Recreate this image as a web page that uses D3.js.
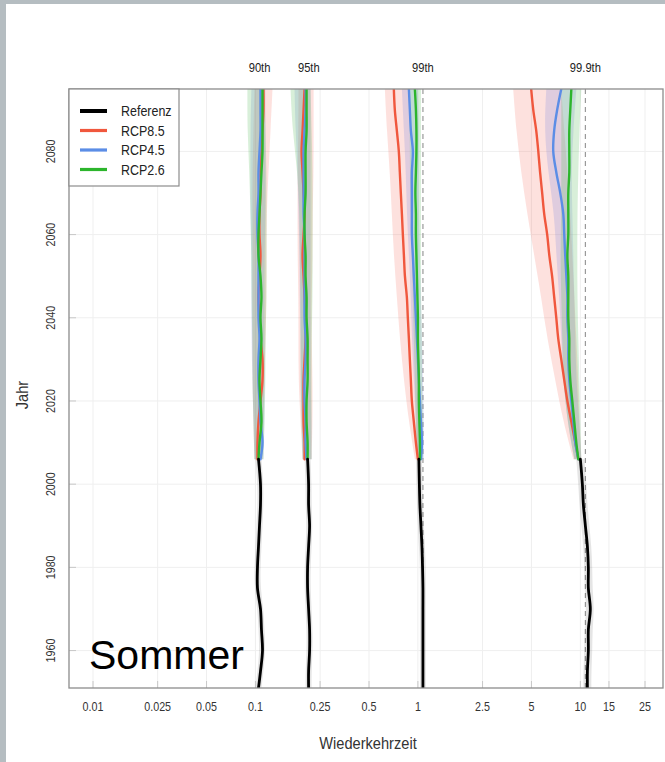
<!DOCTYPE html>
<html>
<head>
<meta charset="utf-8">
<script src="https://cdn.jsdelivr.net/npm/d3@7"></script>
<style>
  html, body { margin: 0; padding: 0; background: #ffffff; }
  svg { display: block; }
  .cond { font-family: "Liberation Sans", Arial, sans-serif; }
</style>
</head>
<body>
<svg id="chart" width="665" height="762"></svg>
<script>
// ---------- DATA ----------
const xTickValues = [0.01, 0.025, 0.05, 0.1, 0.25, 0.5, 1, 2.5, 5, 10, 15, 25];
const xTickLabels = ["0.01", "0.025", "0.05", "0.1", "0.25", "0.5", "1", "2.5", "5", "10", "15", "25"];
const yTickValues = [1960, 1980, 2000, 2020, 2040, 2060, 2080];
const percentileLabels = ["90th", "95th", "99th", "99.9th"];
const percentileRef = [0.106, 0.213, 1.074, 10.74];
const dashedRef = [1.074, 10.74];
const seriesNames = ["Referenz", "RCP8.5", "RCP4.5", "RCP2.6"];

// Reference period (black)
const refYears = [1951, 1955, 1960, 1965, 1970, 1975, 1980, 1985, 1990, 1995, 2000, 2006];
const ref90  = [0.1044, 0.1074, 0.1105, 0.1089, 0.1074, 0.1029, 0.1029, 0.1044, 0.1059, 0.1074, 0.1074, 0.1044];
const ref95  = [0.2124, 0.2124, 0.2154, 0.2154, 0.2124, 0.2094, 0.2094, 0.2124, 0.2154, 0.2124, 0.2124, 0.2094];
const ref99  = [1.074, 1.074, 1.074, 1.074, 1.074, 1.074, 1.068, 1.059, 1.044, 1.029, 1.021, 1.014];
const ref999 = [11.05, 11.05, 11.2, 11.2, 11.52, 11.2, 11.2, 11.05, 10.74, 10.44, 10.29, 10.0];
const refLo90  = [0.1, 0.1029, 0.1059, 0.1044, 0.1029, 0.0986, 0.0986, 0.1, 0.1014, 0.1029, 0.1029, 0.1];
const refHi90  = [0.1089, 0.112, 0.1153, 0.1137, 0.112, 0.1074, 0.1074, 0.1089, 0.1105, 0.112, 0.112, 0.1089];
const refLo95  = [0.2035, 0.2035, 0.2064, 0.2064, 0.2035, 0.2006, 0.2006, 0.2035, 0.2064, 0.2035, 0.2035, 0.2006];
const refHi95  = [0.2216, 0.2216, 0.2248, 0.2248, 0.2216, 0.2185, 0.2185, 0.2216, 0.2248, 0.2216, 0.2216, 0.2185];
const refLo99  = [1.029, 1.029, 1.029, 1.029, 1.029, 1.029, 1.029, 1.014, 1.0, 0.986, 0.979, 0.972];
const refHi99  = [1.12, 1.12, 1.12, 1.12, 1.12, 1.12, 1.12, 1.105, 1.089, 1.074, 1.067, 1.059];
const refLo999 = [10.44, 10.44, 10.59, 10.59, 10.9, 10.59, 10.59, 10.44, 10.14, 9.86, 9.72, 9.44];
const refHi999 = [11.69, 11.69, 11.86, 11.86, 12.19, 11.86, 11.86, 11.69, 11.37, 11.05, 10.89, 10.59];

// Scenario period (lines)
const rcpYears = [2006, 2010, 2015, 2020, 2025, 2030, 2035, 2040, 2045, 2050, 2055, 2060, 2065, 2070, 2075, 2080, 2085, 2090, 2095];
const rcp85_90 = [0.1029, 0.1029, 0.1044, 0.1074, 0.1105, 0.1105, 0.1074, 0.1059, 0.1044, 0.1059, 0.1074, 0.1059, 0.1059, 0.1074, 0.1074, 0.1089, 0.1105, 0.112, 0.112];
const rcp45_90 = [0.1074, 0.1105, 0.1074, 0.1059, 0.1044, 0.1044, 0.1059, 0.1044, 0.1044, 0.1044, 0.1044, 0.1029, 0.1029, 0.1044, 0.1044, 0.1059, 0.1074, 0.1074, 0.1074];
const rcp26_90 = [0.1044, 0.1059, 0.1089, 0.1074, 0.1059, 0.1074, 0.1089, 0.1074, 0.1089, 0.1074, 0.1044, 0.1044, 0.1059, 0.1074, 0.1089, 0.1105, 0.1105, 0.1105, 0.1105];
const rcp85_95 = [0.2006, 0.2006, 0.1978, 0.1978, 0.1978, 0.2006, 0.2035, 0.2035, 0.2006, 0.1978, 0.195, 0.1978, 0.2006, 0.1978, 0.195, 0.1923, 0.195, 0.1978, 0.2006];
const rcp45_95 = [0.2064, 0.2035, 0.2035, 0.2006, 0.2006, 0.2035, 0.2035, 0.2006, 0.2006, 0.2006, 0.2006, 0.2006, 0.1978, 0.1978, 0.1978, 0.1978, 0.2006, 0.2035, 0.2035];
const rcp26_95 = [0.2094, 0.2094, 0.2064, 0.2064, 0.2094, 0.2094, 0.2094, 0.2064, 0.2064, 0.2035, 0.2035, 0.2006, 0.2006, 0.2035, 0.2035, 0.2035, 0.2064, 0.2064, 0.2064];
const rcp85_99 = [1.0, 0.972, 0.944, 0.918, 0.905, 0.892, 0.880, 0.867, 0.855, 0.832, 0.820, 0.808, 0.797, 0.785, 0.774, 0.763, 0.742, 0.721, 0.711];
const rcp45_99 = [1.044, 1.059, 1.044, 1.029, 1.014, 1.0, 0.986, 0.972, 0.958, 0.944, 0.931, 0.918, 0.918, 0.918, 0.918, 0.931, 0.905, 0.892, 0.880];
const rcp26_99 = [1.029, 1.029, 1.021, 1.014, 1.014, 1.007, 1.0, 1.0, 0.993, 0.986, 0.979, 0.972, 0.972, 0.965, 0.972, 0.979, 0.979, 0.972, 0.958];
const rcp85_999 = [9.72, 9.31, 8.80, 8.32, 7.96, 7.63, 7.31, 7.11, 6.9, 6.7, 6.44, 6.25, 5.99, 5.82, 5.65, 5.51, 5.35, 5.13, 4.98];
const rcp45_999 = [9.72, 9.31, 9.05, 8.80, 8.55, 8.43, 8.43, 8.32, 8.32, 8.20, 8.07, 7.96, 7.85, 7.52, 7.11, 6.81, 6.9, 7.2, 7.63];
const rcp26_999 = [9.72, 9.44, 9.18, 8.92, 8.67, 8.55, 8.55, 8.43, 8.43, 8.43, 8.32, 8.43, 8.43, 8.43, 8.55, 8.55, 8.55, 8.67, 8.80];

// Scenario period (uncertainty bands)
const bandYears = [2006, 2015, 2025, 2035, 2045, 2055, 2065, 2075, 2085, 2095];
const rcp85_90_lo = [0.0986, 0.0972, 0.0958, 0.0958, 0.0958, 0.0958, 0.0958, 0.0958, 0.0972, 0.0986];
const rcp85_90_hi = [0.1105, 0.112, 0.1137, 0.1153, 0.117, 0.117, 0.117, 0.1203, 0.1238, 0.1273];
const rcp45_90_lo = [0.0986, 0.0972, 0.0958, 0.0944, 0.0944, 0.0944, 0.0931, 0.0931, 0.0931, 0.0944];
const rcp45_90_hi = [0.112, 0.1137, 0.1137, 0.1137, 0.1137, 0.1137, 0.1153, 0.1153, 0.1153, 0.1153];
const rcp26_90_lo = [0.0986, 0.0972, 0.0958, 0.0958, 0.0944, 0.0944, 0.0931, 0.0918, 0.0892, 0.0892];
const rcp26_90_hi = [0.112, 0.1137, 0.1153, 0.1153, 0.117, 0.117, 0.117, 0.117, 0.1153, 0.1137];
const rcp85_95_lo = [0.195, 0.1896, 0.184, 0.184, 0.184, 0.1816, 0.1816, 0.1816, 0.184, 0.184];
const rcp85_95_hi = [0.2216, 0.2248, 0.2248, 0.2216, 0.2216, 0.2248, 0.2248, 0.228, 0.228, 0.228];
const rcp45_95_lo = [0.195, 0.1923, 0.1896, 0.1896, 0.187, 0.187, 0.184, 0.1816, 0.1766, 0.174];
const rcp45_95_hi = [0.2216, 0.2216, 0.2185, 0.2185, 0.2185, 0.2185, 0.2185, 0.2185, 0.2185, 0.2185];
const rcp26_95_lo = [0.195, 0.1923, 0.1896, 0.1896, 0.1896, 0.187, 0.187, 0.1816, 0.169, 0.1644];
const rcp26_95_hi = [0.2216, 0.2216, 0.2216, 0.2216, 0.2248, 0.2248, 0.2248, 0.2248, 0.2216, 0.2185];
const rcp85_99_lo = [0.958, 0.880, 0.820, 0.774, 0.742, 0.711, 0.691, 0.672, 0.644, 0.626];
const rcp85_99_hi = [1.059, 1.029, 1.0, 0.972, 0.958, 0.931, 0.918, 0.905, 0.892, 0.880];
const rcp45_99_lo = [0.986, 0.972, 0.944, 0.918, 0.905, 0.880, 0.855, 0.843, 0.820, 0.797];
const rcp45_99_hi = [1.089, 1.089, 1.074, 1.059, 1.044, 1.029, 1.014, 1.014, 1.014, 1.0];
const rcp26_99_lo = [0.986, 0.972, 0.958, 0.944, 0.931, 0.918, 0.905, 0.892, 0.892, 0.880];
const rcp26_99_hi = [1.074, 1.074, 1.059, 1.059, 1.044, 1.044, 1.044, 1.044, 1.044, 1.044];
const rcp85_999_lo = [9.05, 7.85, 7.01, 6.25, 5.74, 5.20, 4.71, 4.32, 4.03, 3.86];
const rcp85_999_hi = [10.14, 9.86, 9.72, 9.44, 9.18, 8.93, 8.67, 8.32, 7.96, 7.63];
const rcp45_999_lo = [9.18, 8.32, 7.85, 7.63, 7.42, 7.11, 6.91, 6.34, 5.99, 6.17];
const rcp45_999_hi = [10.14, 9.86, 9.44, 9.31, 9.18, 9.05, 8.93, 8.80, 9.05, 9.44];
const rcp26_999_lo = [9.18, 8.32, 7.85, 7.74, 7.63, 7.53, 7.63, 7.63, 7.63, 7.63];
const rcp26_999_hi = [10.14, 10.0, 9.86, 9.72, 9.58, 9.58, 9.58, 9.72, 9.86, 10.14];

// ---------- STYLE ----------
const colors = { ref: "#000000", rcp85: "#f0573d", rcp45: "#5b8de6", rcp26: "#2cb52c" };
const bandFill = { ref: "rgba(0,0,0,0.10)", rcp85: "rgba(248,120,105,0.22)", rcp45: "rgba(120,130,225,0.22)", rcp26: "rgba(90,190,95,0.24)" };
const NARROW = 0.86; // horizontal condensation of the label font

// ---------- LAYOUT ----------
const svg = d3.select("#chart");
const W = 665, H = 762;
const plot = { left: 69, right: 663, top: 89, bottom: 688 };

// slide background frame
svg.append("rect").attr("x", 0).attr("y", 0).attr("width", W).attr("height", H).attr("fill", "#b5bdc1");
svg.append("rect").attr("x", 6).attr("y", 4).attr("width", W - 6).attr("height", H - 4).attr("fill", "#ffffff");

const x = d3.scaleLog().domain([0.01, 25]).range([93, 645]);
const y = d3.scaleLinear().domain([1951, 2095]).range([plot.bottom, plot.top]);

svg.append("defs").append("clipPath").attr("id", "clip")
  .append("rect").attr("x", plot.left).attr("y", plot.top)
  .attr("width", plot.right - plot.left).attr("height", plot.bottom - plot.top);

// grid
const grid = svg.append("g");
grid.selectAll("line.vx").data(xTickValues).join("line")
  .attr("x1", d => x(d)).attr("x2", d => x(d))
  .attr("y1", plot.top).attr("y2", plot.bottom)
  .attr("stroke", "#efefef").attr("stroke-width", 1);
grid.selectAll("line.hy").data(yTickValues).join("line")
  .attr("y1", d => y(d)).attr("y2", d => y(d))
  .attr("x1", plot.left).attr("x2", plot.right)
  .attr("stroke", "#efefef").attr("stroke-width", 1);
grid.selectAll("line.tx").data(xTickValues).join("line")
  .attr("x1", d => x(d)).attr("x2", d => x(d))
  .attr("y1", plot.bottom - 7).attr("y2", plot.bottom)
  .attr("stroke", "#c8c8c8").attr("stroke-width", 1);
grid.selectAll("line.ty").data(yTickValues).join("line")
  .attr("y1", d => y(d)).attr("y2", d => y(d))
  .attr("x1", plot.left).attr("x2", plot.left + 7)
  .attr("stroke", "#c8c8c8").attr("stroke-width", 1);

const g = svg.append("g").attr("clip-path", "url(#clip)");

// dashed reference verticals
g.selectAll("line.dash").data(dashedRef).join("line")
  .attr("x1", d => x(d)).attr("x2", d => x(d))
  .attr("y1", plot.top).attr("y2", plot.bottom)
  .attr("stroke", "#9a9a9a").attr("stroke-width", 1.2).attr("stroke-dasharray", "5,4");

function zipBand(years, lo, hi) { return years.map((yr, i) => ({ yr, lo: lo[i], hi: hi[i] })); }
function zipLine(years, v) { return years.map((yr, i) => ({ yr, v: v[i] })); }

const bands = [
  { key: "ref", d: zipBand(refYears, refLo90, refHi90) },
  { key: "ref", d: zipBand(refYears, refLo95, refHi95) },
  { key: "ref", d: zipBand(refYears, refLo99, refHi99) },
  { key: "ref", d: zipBand(refYears, refLo999, refHi999) },
  { key: "rcp85", d: zipBand(bandYears, rcp85_90_lo, rcp85_90_hi) },
  { key: "rcp85", d: zipBand(bandYears, rcp85_95_lo, rcp85_95_hi) },
  { key: "rcp85", d: zipBand(bandYears, rcp85_99_lo, rcp85_99_hi) },
  { key: "rcp85", d: zipBand(bandYears, rcp85_999_lo, rcp85_999_hi) },
  { key: "rcp45", d: zipBand(bandYears, rcp45_90_lo, rcp45_90_hi) },
  { key: "rcp45", d: zipBand(bandYears, rcp45_95_lo, rcp45_95_hi) },
  { key: "rcp45", d: zipBand(bandYears, rcp45_99_lo, rcp45_99_hi) },
  { key: "rcp45", d: zipBand(bandYears, rcp45_999_lo, rcp45_999_hi) },
  { key: "rcp26", d: zipBand(bandYears, rcp26_90_lo, rcp26_90_hi) },
  { key: "rcp26", d: zipBand(bandYears, rcp26_95_lo, rcp26_95_hi) },
  { key: "rcp26", d: zipBand(bandYears, rcp26_99_lo, rcp26_99_hi) },
  { key: "rcp26", d: zipBand(bandYears, rcp26_999_lo, rcp26_999_hi) }
];

const lines = [
  { key: "rcp85", d: zipLine(rcpYears, rcp85_90) },
  { key: "rcp85", d: zipLine(rcpYears, rcp85_95) },
  { key: "rcp85", d: zipLine(rcpYears, rcp85_99) },
  { key: "rcp85", d: zipLine(rcpYears, rcp85_999) },
  { key: "rcp45", d: zipLine(rcpYears, rcp45_90) },
  { key: "rcp45", d: zipLine(rcpYears, rcp45_95) },
  { key: "rcp45", d: zipLine(rcpYears, rcp45_99) },
  { key: "rcp45", d: zipLine(rcpYears, rcp45_999) },
  { key: "rcp26", d: zipLine(rcpYears, rcp26_90) },
  { key: "rcp26", d: zipLine(rcpYears, rcp26_95) },
  { key: "rcp26", d: zipLine(rcpYears, rcp26_99) },
  { key: "rcp26", d: zipLine(rcpYears, rcp26_999) },
  { key: "ref", d: zipLine(refYears, ref90) },
  { key: "ref", d: zipLine(refYears, ref95) },
  { key: "ref", d: zipLine(refYears, ref99) },
  { key: "ref", d: zipLine(refYears, ref999) }
];

const area = d3.area().y(d => y(d.yr)).x0(d => x(d.lo)).x1(d => x(d.hi)).curve(d3.curveBasis);
const line = d3.line().y(d => y(d.yr)).x(d => x(d.v)).curve(d3.curveCatmullRom);

g.selectAll("path.band").data(bands).join("path")
  .attr("d", b => area(b.d)).attr("fill", b => bandFill[b.key]).attr("stroke", "none");

g.selectAll("path.line").data(lines).join("path")
  .attr("d", l => line(l.d)).attr("fill", "none")
  .attr("stroke", l => colors[l.key])
  .attr("stroke-width", l => l.key === "ref" ? 2.8 : 2.4)
  .attr("stroke-linejoin", "round").attr("stroke-linecap", "round");

// plot frame
svg.append("rect").attr("x", plot.left).attr("y", plot.top)
  .attr("width", plot.right - plot.left).attr("height", plot.bottom - plot.top)
  .attr("fill", "none").attr("stroke", "#8c8c8c").attr("stroke-width", 1.3);

// x tick labels
svg.selectAll("text.xt").data(xTickValues).join("text")
  .attr("class", "cond")
  .attr("transform", d => `translate(${x(d)},711) scale(${NARROW},1)`)
  .attr("text-anchor", "middle").attr("font-size", 12.5).attr("fill", "#333")
  .text((d, i) => xTickLabels[i]);

// y tick labels (rotated)
svg.selectAll("text.yt").data(yTickValues).join("text")
  .attr("class", "cond")
  .attr("transform", d => `translate(55,${y(d)}) rotate(-90) scale(${NARROW},1)`)
  .attr("text-anchor", "middle").attr("font-size", 12.5).attr("fill", "#333")
  .text(d => d);

// percentile labels on top
svg.selectAll("text.pl").data(percentileRef).join("text")
  .attr("class", "cond")
  .attr("transform", d => `translate(${x(d)},72) scale(${NARROW},1)`)
  .attr("text-anchor", "middle").attr("font-size", 13).attr("fill", "#222")
  .text((d, i) => percentileLabels[i]);

// axis titles
svg.append("text").attr("class", "cond")
  .attr("transform", `translate(368,749) scale(${NARROW},1)`)
  .attr("text-anchor", "middle").attr("font-size", 17).attr("fill", "#333").text("Wiederkehrzeit");
svg.append("text").attr("class", "cond")
  .attr("transform", `translate(28,395) rotate(-90) scale(${NARROW},1)`)
  .attr("text-anchor", "middle").attr("font-size", 17).attr("fill", "#333").text("Jahr");

// legend
const lg = svg.append("g");
lg.append("rect").attr("x", plot.left).attr("y", plot.top).attr("width", 110).attr("height", 97)
  .attr("fill", "#fff").attr("stroke", "#8c8c8c").attr("stroke-width", 1.2);
const legendKeys = ["ref", "rcp85", "rcp45", "rcp26"];
legendKeys.forEach((k, i) => {
  const yy = 111 + i * 19.5;
  lg.append("line").attr("x1", 80).attr("x2", 107).attr("y1", yy).attr("y2", yy)
    .attr("stroke", colors[k]).attr("stroke-width", k === "ref" ? 4 : 3.2);
  lg.append("text").attr("class", "cond")
    .attr("transform", `translate(121,${yy + 5}) scale(${NARROW},1)`)
    .attr("font-size", 14.5).attr("fill", "#222").text(seriesNames[i]);
});

// season label
svg.append("text").attr("x", 89).attr("y", 669)
  .attr("font-family", "Liberation Sans, Arial, sans-serif")
  .attr("font-size", 41).attr("fill", "#000").text("Sommer");
</script>
</body>
</html>
